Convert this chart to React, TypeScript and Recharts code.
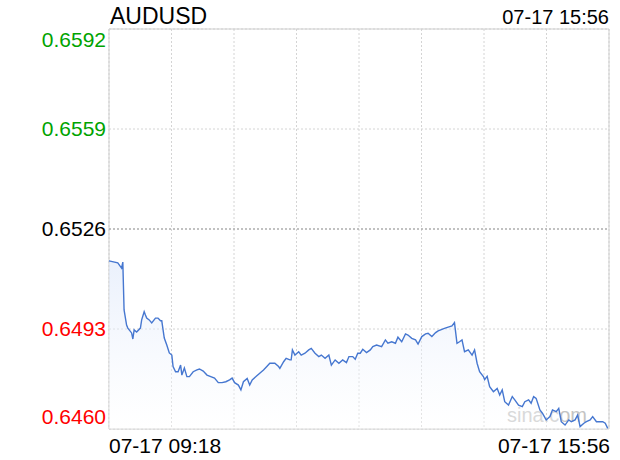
import {
  AreaChart, Area, XAxis, YAxis, CartesianGrid,
  ReferenceLine, ReferenceArea,
} from "recharts";

// minutes since 09:18
const minutes = [
  0, 7, 10, 11, 12, 14, 15, 18, 19, 20, 22, 25, 26, 28, 29, 30, 32, 34, 37, 39,
  41, 42, 44, 46, 48, 50, 51, 53, 55, 57, 58, 60, 62, 64, 67, 70, 72, 75, 78, 81,
  84, 87, 90, 93, 96, 98, 100, 103, 105, 107, 110, 112, 114, 117, 120, 123, 126, 128, 132, 135,
  136, 139, 141, 144, 145, 146, 148, 151, 153, 156, 159, 161, 164, 167, 169, 172, 175, 177, 180, 183,
  186, 189, 191, 194, 196, 198, 200, 202, 205, 208, 210, 213, 217, 220, 222, 225, 228, 230, 233, 236,
  238, 241, 244, 246, 249, 252, 254, 257, 260, 262, 265, 267, 270, 273, 275, 277, 279, 281, 283, 286,
  289, 291, 293, 295, 298, 299, 301, 303, 306, 309, 311, 313, 315, 318, 321, 323, 326, 329, 331, 334,
  336, 338, 340, 343, 345, 348, 351, 353, 356, 358, 360, 363, 366, 368, 371, 373, 375, 378, 380, 383,
  385, 388, 390, 393, 395, 397,
];

const prices = [
  0.65155, 0.65148, 0.65131, 0.65151, 0.64993, 0.64943, 0.64933, 0.64917, 0.64897, 0.64927,
  0.6492, 0.64933, 0.6496, 0.64987, 0.64976, 0.64966, 0.6496, 0.6495, 0.64966, 0.64966,
  0.64957, 0.64957, 0.649, 0.64877, 0.64851, 0.64844, 0.64806, 0.64789, 0.64789, 0.64811,
  0.64778, 0.64801, 0.64773, 0.64773, 0.64789, 0.64795, 0.64798, 0.64791, 0.64778, 0.64773,
  0.64768, 0.64753, 0.64753, 0.64756, 0.64762, 0.64768, 0.64753, 0.64745, 0.64729, 0.64756,
  0.64767, 0.64745, 0.64762, 0.64773, 0.64784, 0.64795, 0.64808, 0.64817, 0.64817, 0.64806,
  0.648, 0.64822, 0.64833, 0.64828, 0.64828, 0.64861, 0.64844, 0.64855, 0.64844, 0.6485,
  0.64861, 0.64866, 0.6485, 0.64839, 0.64844, 0.64833, 0.64844, 0.64811, 0.64828, 0.64817,
  0.64828, 0.64819, 0.64839, 0.64839, 0.6483, 0.6485, 0.6485, 0.64863, 0.64852, 0.64861,
  0.64872, 0.64877, 0.64872, 0.64894, 0.64883, 0.64888, 0.64883, 0.64903, 0.64888, 0.64914,
  0.6491, 0.64899, 0.64894, 0.6488, 0.64905, 0.64914, 0.64916, 0.64905, 0.64918, 0.64924,
  0.64929, 0.64932, 0.64936, 0.6494, 0.64951, 0.64883, 0.64888, 0.64894, 0.64855, 0.64861,
  0.64844, 0.64861, 0.64817, 0.64789, 0.64773, 0.64763, 0.64774, 0.6474, 0.64723, 0.64734,
  0.64712, 0.64729, 0.6469, 0.64679, 0.64707, 0.64696, 0.64679, 0.64674, 0.6469, 0.64696,
  0.64685, 0.64707, 0.64701, 0.64663, 0.64652, 0.6463, 0.64641, 0.64663, 0.64657, 0.64668,
  0.64624, 0.64613, 0.6463, 0.64624, 0.6463, 0.64646, 0.64608, 0.64619, 0.64624, 0.6463,
  0.64641, 0.64624, 0.64624, 0.64624, 0.64619, 0.64602,
];

const yTicks = [0.646, 0.6493, 0.6526, 0.6559, 0.6592];
const prevClose = 0.6526;
const xTicks = [0, 49.75, 99.5, 149.25, 199, 248.75, 298.5, 348.25, 398];
const xLabels = ["07-17 09:18", "07-17 15:56"];
const symbol = "AUDUSD";
const stamp = "07-17 15:56";

const data = minutes.map((t, i) => ({ t, p: prices[i] }));

const FONT = "'Liberation Sans', Arial, sans-serif";

function YTick(props: any) {
  const { y, payload, index } = props;
  const v = payload.value;
  const color = v > prevClose + 1e-9 ? "#00a300" : v < prevClose - 1e-9 ? "#f00" : "#000";
  // keep the top/bottom labels inside the plot
  const dy = index === 0 ? -5 : index === yTicks.length - 1 ? 18 : 7;
  return (
    <text x={106} y={y + dy} textAnchor="end" fill={color} fontSize={21} fontFamily={FONT}>
      {v.toFixed(4)}
    </text>
  );
}

function XTick(props: any) {
  const { x, y, index } = props;
  if (index === 0) {
    return <text x={x} y={y + 16} textAnchor="start" fontSize={21} fontFamily={FONT} fill="#000">{xLabels[0]}</text>;
  }
  if (index === xTicks.length - 1) {
    return <text x={x + 1} y={y + 16} textAnchor="end" fontSize={21} fontFamily={FONT} fill="#000">{xLabels[1]}</text>;
  }
  return null;
}

export default function App() {
  return (
    <div style={{ position: "absolute", left: 0, top: 0, width: 620, height: 460, background: "#fff" }}>
      <AreaChart width={620} height={460} data={data} margin={{ top: 29, right: 11, left: 0, bottom: 0 }}>
        <defs>
          <linearGradient id="fillGrad" x1="0" y1="0" x2="0" y2="1">
            <stop offset="0%" stopColor="#dbe6fa" stopOpacity={0.95} />
            <stop offset="100%" stopColor="#ffffff" stopOpacity={0.6} />
          </linearGradient>
        </defs>
        <CartesianGrid stroke="#d4d4d4" strokeDasharray="2 2" />
        <XAxis
          dataKey="t" type="number" domain={[0, 398]} ticks={xTicks}
          axisLine={false} tickLine={false} tick={<XTick />} height={31} interval={0}
        />
        <YAxis
          type="number" domain={[0.646, 0.6592]} ticks={yTicks} width={109}
          axisLine={false} tickLine={false} tick={<YTick />} interval={0} allowDataOverflow
        />
        <ReferenceLine y={prevClose} stroke="#999" strokeDasharray="2 2" />
        <ReferenceArea x1={0} x2={398} y1={0.646} y2={0.6592} fill="none" stroke="#cfcfcf" strokeWidth={1} />
        <text x={507} y={422} fontSize={20} fontFamily={FONT} fill="#c4c4c4">sina.com</text>
        <Area
          type="linear" dataKey="p" stroke="#4677d0" strokeWidth={1.4}
          fill="url(#fillGrad)" baseValue={0.646} isAnimationActive={false} dot={false}
        />
        <text x={110} y={24} fontSize={23} fontFamily={FONT} fill="#000">{symbol}</text>
        <text x={609} y={24} fontSize={20} fontFamily={FONT} fill="#000" textAnchor="end">{stamp}</text>
      </AreaChart>
    </div>
  );
}
